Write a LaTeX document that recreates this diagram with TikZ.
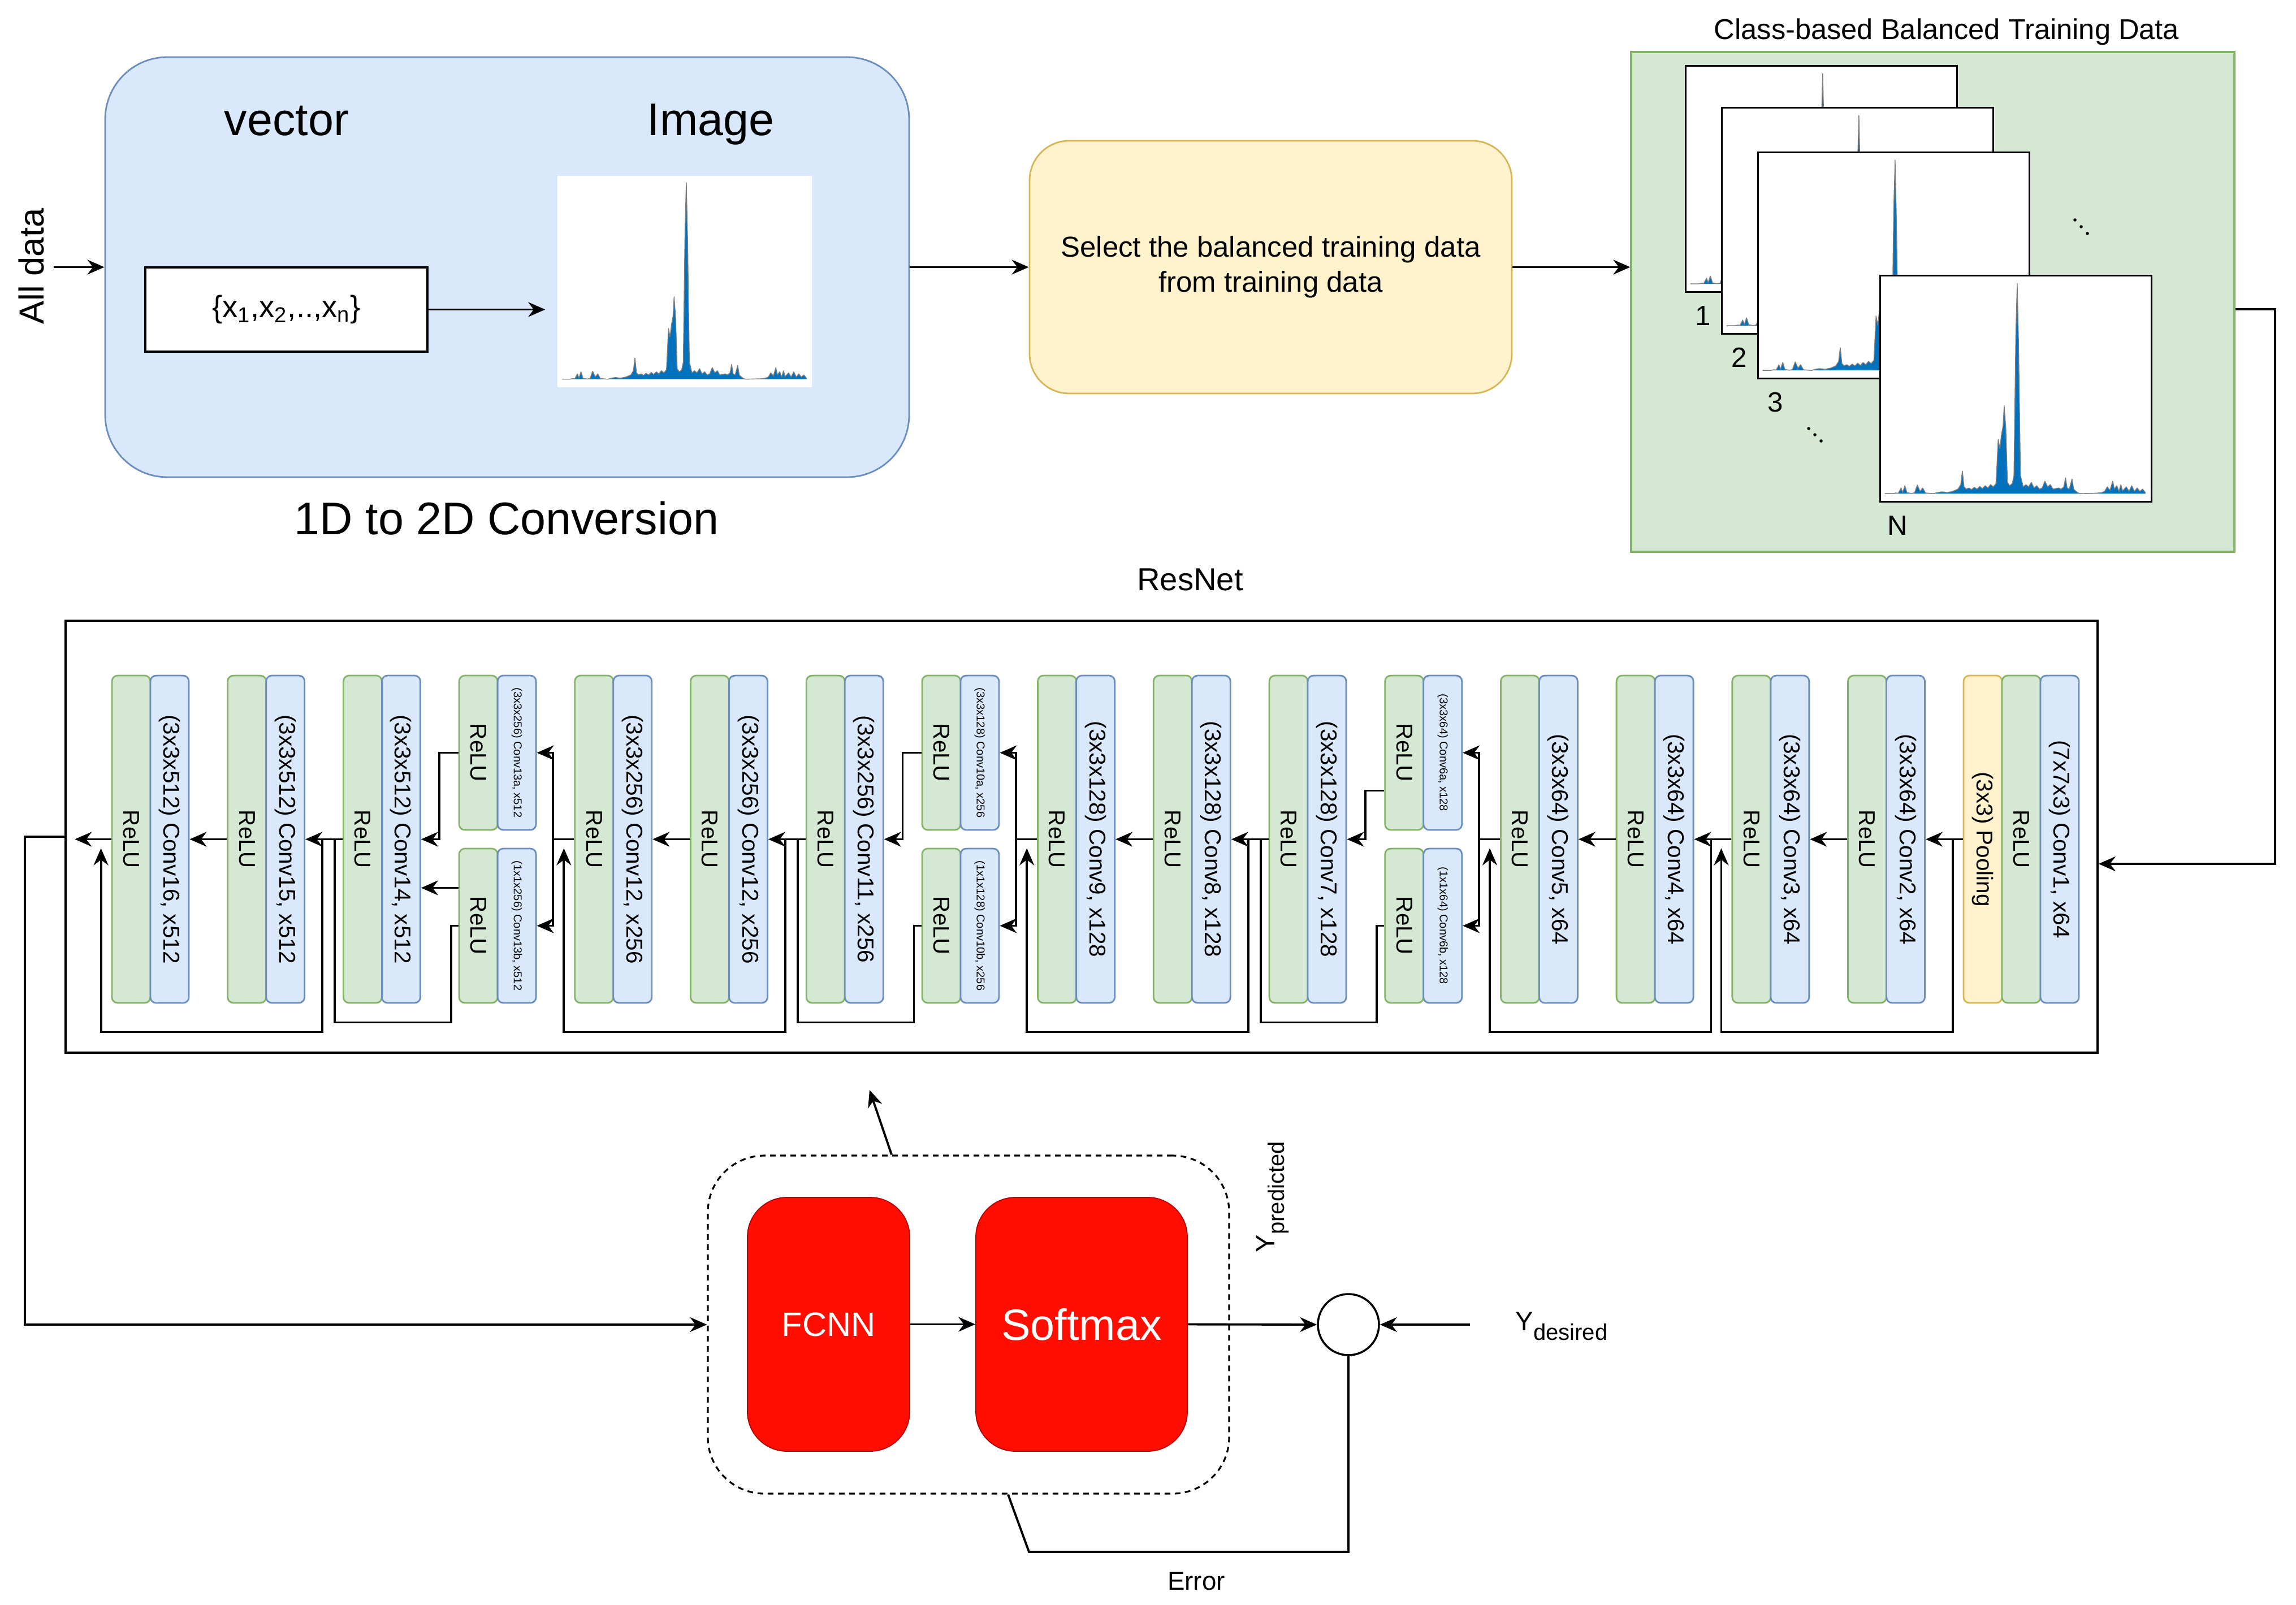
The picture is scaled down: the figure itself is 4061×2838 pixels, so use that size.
\documentclass[tikz,border=0pt]{standalone}
\usepackage{fontspec}
\setmainfont{Liberation Sans}
\usetikzlibrary{arrows.meta}

\definecolor{bfill}{HTML}{DAE8FC}
\definecolor{bline}{HTML}{6C8EBF}
\definecolor{gfill}{HTML}{D5E8D4}
\definecolor{gline}{HTML}{82B366}
\definecolor{yfill}{HTML}{FFF2CC}
\definecolor{yline}{HTML}{D6B656}
\definecolor{redfill}{HTML}{FF0D00}
\definecolor{specblue}{RGB}{0,114,189}
\definecolor{specgray}{RGB}{125,125,125}

% spectrum curve, local box 0..100 x 0..100 (y up)
\def\specpath{(2,4) -- (5,4) -- (6,4.3) -- (7,4.2) -- (8,6.5) -- (8.6,4.5) -- (9.4,7.5) -- (10.2,4.4)
  -- (12,4.1) -- (13,4.4) -- (14,7.8) -- (15,5) -- (16,6.5) -- (17,4.3) -- (20,4) -- (21,4.4)
  -- (23,4.8) -- (25,4.5) -- (27,5) -- (29,6) -- (30,8) -- (30.6,14) -- (31.2,7) -- (32,6)
  -- (33,6.5) -- (34,5.8) -- (35,6.8) -- (36,6) -- (37,7.2) -- (38,6.2) -- (39,7.5) -- (40,6.5)
  -- (41,8) -- (42,7) -- (43,8.5) -- (43.8,28) -- (44.4,24) -- (45,30) -- (45.6,34) -- (46,43)
  -- (46.6,33) -- (47.2,9) -- (48,7.5) -- (49,8.5) -- (49.6,12) -- (50.3,75) -- (50.8,97)
  -- (51.3,70) -- (52,12) -- (53,7) -- (54,8) -- (55,7) -- (56,9) -- (57,6.5) -- (58,7.5)
  -- (59,6) -- (60,6.5) -- (61,9.5) -- (62,7) -- (63,8) -- (64,6) -- (66,6.5) -- (67,6)
  -- (68,7) -- (68.6,11) -- (69.2,6.5) -- (70,6) -- (71,10.5) -- (71.6,6) -- (72,5.5)
  -- (73,4.5) -- (74,4) -- (80,4.2) -- (82,4.5) -- (83,5) -- (84,7) -- (85,5.5) -- (86,9.5)
  -- (86.6,6) -- (87.5,7.5) -- (88.3,5) -- (89,8) -- (89.6,5.2) -- (91,7) -- (92,5)
  -- (93,7.5) -- (94,5) -- (95,6.5) -- (96,5) -- (97,6) -- (98,4.5) -- (98,4)}
\newcommand{\spectrum}[3]{%
  \begin{scope}[shift={(#1.south west)},xscale=#2,yscale=#3]
    \fill[specblue] \specpath -- cycle;
    \draw[specgray,line width=0.4pt,line join=round] \specpath;
  \end{scope}}
\newcommand{\lowtxt}[1]{\raisebox{-5pt}{\fontsize{11.4}{12}\selectfont #1}}

\tikzset{
  arr/.style={-{Stealth[length=3mm,width=2.6mm]},line width=1.1pt},
  ln/.style={line width=1.1pt},
  strip/.style={rectangle,rounded corners=1mm,line width=0.8pt,minimum width=6.8mm,
    minimum height=57.9mm,inner sep=0pt,font=\fontsize{11.5}{13}\selectfont},
  relu/.style={strip,draw=gline,fill=gfill},
  conv/.style={strip,draw=bline,fill=bfill},
  pool/.style={strip,draw=yline,fill=yfill},
  half/.style={minimum height=27.3mm},
  small/.style={font=\fontsize{5.7}{7}\selectfont},
  imgframe/.style={rectangle,draw=black,line width=0.9pt,fill=white,minimum width=48mm,
    minimum height=40mm,inner sep=0pt},
  numlab/.style={font=\fontsize{14}{16}\selectfont,inner sep=0pt},
  redbox/.style={rectangle,rounded corners=7mm,fill=redfill,draw=red!70!black,line width=0.5pt,
    minimum height=44.9mm,text=white},
}

\begin{document}
\begin{tikzpicture}[x=0.1mm,y=-0.1mm]
\useasboundingbox (0,0) rectangle (4061,2838);

% 1D to 2D conversion
\node[rectangle,rounded corners=11mm,draw=bline,fill=bfill,line width=0.8pt,
  minimum width=142.2mm,minimum height=74.3mm] (conv2d) at (897,472.5) {};
\node[font=\fontsize{23}{26}\selectfont,anchor=base] (vectxt) at (507,239) {vector};
\node[font=\fontsize{23}{26}\selectfont,anchor=base] (imgtxt) at (1257,239) {Image};
\node[rectangle,draw,fill=white,line width=1.1pt,minimum width=49.9mm,minimum height=14.9mm,
  font=\fontsize{15.5}{18}\selectfont] (vec) at (506.5,547.5)
  {\{x\textsubscript{1},x\textsubscript{2},..,x\textsubscript{n}\}};
\node[rectangle,fill=white,minimum width=45mm,minimum height=37.4mm,inner sep=0pt] (imgvec) at (1211,498) {};
\spectrum{imgvec}{4.5}{-3.74}
\node[font=\fontsize{23}{26}\selectfont] (convtitle) at (896,917) {1D to 2D Conversion};
\node[font=\fontsize{17.5}{20}\selectfont,rotate=90] (alldata) at (56,471) {All data};
\coordinate (allin) at (95,472.5);

% selection
\node[rectangle,rounded corners=7mm,draw=yline,fill=yfill,line width=0.8pt,minimum width=85.3mm,
  minimum height=44.7mm,align=center,font=\fontsize{14.5}{17.5}\selectfont] (sel) at (2247.5,472.5)
  {Select the balanced training data\\from training data};

% balanced training data
\node[rectangle,draw=gline,fill=gfill,line width=0.9pt,minimum width=106.7mm,minimum height=88.4mm] (train) at (3418.5,534) {};
\node[font=\fontsize{14.4}{16}\selectfont] (traintitle) at (3443,56) {Class-based Balanced Training Data};
\foreach \n/\x/\y in {1/2980/115,2/3044/189,3/3108/268,N/3324/486} {
  \node[imgframe,anchor=north west] (img\n) at (\x,\y) {};
  \spectrum{img\n}{4.8}{-4}
  \node[numlab] (lab\n) at ([xshift=3.2mm,yshift=-4mm]img\n.south west) {\n};
}
\foreach \x/\y in {3670/389,3681/401,3692/413,3199/758,3210/769,3221/780}
  \fill (\x,\y) circle (0.28mm);

% ResNet
\node[font=\fontsize{16}{18}\selectfont] (resnettitle) at (2105,1025) {ResNet};
\node[rectangle,draw,line width=1pt,minimum width=359.4mm,minimum height=76.4mm] (resnet) at (1913,1480) {};
\foreach \i/\txt in {0/{(3x3x512) Conv16, x512},1/{(3x3x512) Conv15, x512},2/{(3x3x512) Conv14, x512},
    4/{(3x3x256) Conv12, x256},5/{(3x3x256) Conv12, x256},6/{(3x3x256) Conv11, x256},
    8/{(3x3x128) Conv9, x128},9/{(3x3x128) Conv8, x128},10/{(3x3x128) Conv7, x128},
    12/{(3x3x64) Conv5, x64},13/{(3x3x64) Conv4, x64},14/{(3x3x64) Conv3, x64},15/{(3x3x64) Conv2, x64}} {
  \node[relu] (relu\i) at ({198+204.7*\i+34},1484.5) {\rotatebox{-90}{ReLU}};
  \node[conv] (conv\i) at ({198+204.7*\i+102},1484.5) {\rotatebox{-90}{\txt}};
}
\foreach \i/\ta/\tb in {3/{(3x3x256) Conv13a, x512}/{(1x1x256) Conv13b, x512},
    7/{(3x3x128) Conv10a, x256}/{(1x1x128) Conv10b, x256},
    11/{(3x3x64) Conv6a, x128}/{(1x1x64) Conv6b, x128}} {
  \node[relu,half] (relua\i) at ({198+204.7*\i+34},1331.5) {\rotatebox{-90}{ReLU}};
  \node[conv,half,small] (conva\i) at ({198+204.7*\i+102},1331.5) {\rotatebox{-90}{\ta}};
  \node[relu,half] (relub\i) at ({198+204.7*\i+34},1637.5) {\rotatebox{-90}{ReLU}};
  \node[conv,half,small] (convb\i) at ({198+204.7*\i+102},1637.5) {\rotatebox{-90}{\tb}};
}
\node[pool] (pool16) at (3507,1484.5) {\rotatebox{-90}{(3x3) Pooling}};
\node[relu] (relu16) at (3575,1484.5) {\rotatebox{-90}{ReLU}};
\node[conv] (conv16) at (3643,1484.5) {\rotatebox{-90}{(7x7x3) Conv1, x64}};

% classifier
\node[rectangle,rounded corners=10mm,draw,dashed,dash pattern=on 1mm off 0.8mm,line width=0.9pt,
  minimum width=92.2mm,minimum height=59.8mm] (head) at (1713,2343) {};
\node[redbox,minimum width=28.7mm,font=\fontsize{17}{20}\selectfont] (fcnn) at (1465.5,2342.5) {FCNN};
\node[redbox,minimum width=37.4mm,font=\fontsize{22}{26}\selectfont] (softmax) at (1913,2342.5) {Softmax};
\node[circle,draw,line width=1pt,fill=white,minimum size=10.8mm] (sum) at (2385,2343) {};
\node[font=\fontsize{13.4}{15}\selectfont,rotate=90] (ypred) at (2251,2117) {Y\lowtxt{predicted}};
\node[font=\fontsize{13.4}{15}\selectfont] (ydes) at (2762,2346) {Y\lowtxt{desired}};
\node[font=\fontsize{13}{15}\selectfont] (errlbl) at (2116,2797) {Error};
\coordinate (ydesin) at (2600,2343);
\coordinate (errbend) at (1820,2745);
\coordinate (fbtip) at (1538,1928);

% top connectors
\draw[arr] (allin) -- (conv2d.west);
\draw[arr] (vec.east) -- ([xshift=-2.1mm]imgvec.west |- vec.east);
\draw[arr] (conv2d.east) -- (sel.west);
\draw[arr] (sel.east) -- (sel.east -| train.west);
\draw[arr] ([yshift=-1.3mm]train.east) -- ++(70,0) |- ([yshift=-4.8mm]resnet.east);

% main chain
\foreach \i/\j in {1/0,2/1,5/4,6/5,9/8,10/9,13/12,14/13,15/14}
  \draw[arr] (relu\i.west) -- (conv\j.east);
\draw[arr] (pool16.west) -- (conv15.east);

% branches
\foreach \i/\j in {12/11,8/7,4/3} {
  \draw[ln] (relu\i.west) -- ++(-37,0) coordinate (split\j);
  \draw[arr] (split\j) |- (conva\j.east);
  \draw[arr] (split\j) |- (convb\j.east);
}
\draw[arr] ([yshift=-6.7mm]relua11.west) -- ++(-33,0) |- (conv10.east);
\draw[arr] (relua7.west) -- ++(-33,0) |- (conv6.east);
\draw[arr] (relua3.west) -- ++(-34,0) |- (conv2.east);
\draw[arr] ([yshift=6.7mm]relub3.west) -- ([yshift=6.7mm]relub3.west -| conv2.east);
\foreach \i/\j in {11/10,7/6,3/2}
  \draw[ln] (relub\i.west) -- ++(-13,0) -- ++(0,171) -| ([xshift=-1.4mm]relu\j.west);

% skip connections
\draw[arr] ([xshift=-1.8mm]pool16.west) -- ++(0,341) -| ([xshift=-1.8mm,yshift=-1.6mm]relu14.west);
\foreach \a/\b in {14/12,10/8,6/4,2/0}
  \draw[arr] ([xshift=-3.6mm]relu\a.west) -- ++(0,341) -| ([xshift=-1.8mm,yshift=-1.6mm]relu\b.west);
\coordinate (outtip) at ([xshift=1.8mm]resnet.west |- relu0.west);
\draw[arr] (relu0.west) -- (outtip);

% bottom connectors
\draw[arr] (resnet.west) -- ++(-70,0) |- (head.west);
\draw[arr] (fcnn.east) -- (softmax.west);
\draw[arr] (softmax.east) -- (sum.west);
\draw[arr] (ydesin) -- (sum.east);
\draw[ln] (sum.south) |- (errbend) -- ([xshift=7mm]head.south);
\draw[arr] ([xshift=-13.6mm]head.north) -- (fbtip);
\end{tikzpicture}
\end{document}
